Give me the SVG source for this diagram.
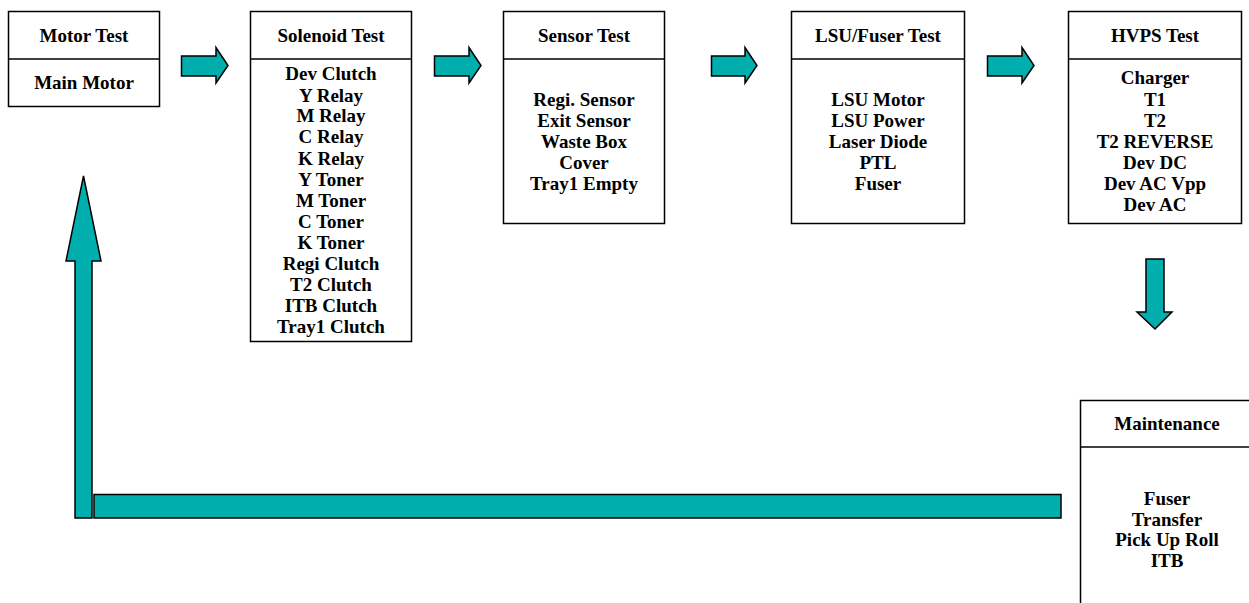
<svg xmlns="http://www.w3.org/2000/svg" width="1249" height="603" viewBox="0 0 1249 603">
<style>
.box{fill:#fff;stroke:#000;stroke-width:1.5}
.div{stroke:#000;stroke-width:1.5}
.arr{fill:#00AEAE;stroke:#000;stroke-width:1.5;stroke-linejoin:miter}
text{font-family:"Liberation Serif","Times New Roman",serif;font-weight:bold;font-size:19px;text-anchor:middle;fill:#000}
</style>
<rect width="1249" height="603" fill="#fff"/>
<g id="motor">
<rect class="box" x="8.5" y="11.5" width="151" height="95"/>
<line class="div" x1="8.5" y1="59" x2="159.5" y2="59"/>
<text x="84" y="41.5">Motor Test</text>
<text x="84" y="88.5">Main Motor</text>
</g>
<g id="solenoid">
<rect class="box" x="250.5" y="11.5" width="161" height="330"/>
<line class="div" x1="250.5" y1="59" x2="411.5" y2="59"/>
<text x="331" y="41.5">Solenoid Test</text>
<text x="331" y="79.5">Dev Clutch</text>
<text x="331" y="101.5">Y Relay</text>
<text x="331" y="122">M Relay</text>
<text x="331" y="143">C Relay</text>
<text x="331" y="165">K Relay</text>
<text x="331" y="185.5">Y Toner</text>
<text x="331" y="206.5">M Toner</text>
<text x="331" y="228">C Toner</text>
<text x="331" y="249">K Toner</text>
<text x="331" y="269.5">Regi Clutch</text>
<text x="331" y="291">T2 Clutch</text>
<text x="331" y="312">ITB Clutch</text>
<text x="331" y="333">Tray1 Clutch</text>
</g>
<g id="sensor">
<rect class="box" x="503.5" y="11.5" width="161" height="212"/>
<line class="div" x1="503.5" y1="59" x2="664.5" y2="59"/>
<text x="584" y="41.5">Sensor Test</text>
<text x="584" y="106">Regi. Sensor</text>
<text x="584" y="127">Exit Sensor</text>
<text x="584" y="148">Waste Box</text>
<text x="584" y="169">Cover</text>
<text x="584" y="190">Tray1 Empty</text>
</g>
<g id="lsu">
<rect class="box" x="791.5" y="11.5" width="173" height="212"/>
<line class="div" x1="791.5" y1="59" x2="964.5" y2="59"/>
<text x="878" y="41.5">LSU/Fuser Test</text>
<text x="878" y="106">LSU Motor</text>
<text x="878" y="127">LSU Power</text>
<text x="878" y="148">Laser Diode</text>
<text x="878" y="169">PTL</text>
<text x="878" y="190">Fuser</text>
</g>
<g id="hvps">
<rect class="box" x="1068.5" y="11.5" width="173" height="212"/>
<line class="div" x1="1068.5" y1="59" x2="1241.5" y2="59"/>
<text x="1155" y="41.5">HVPS Test</text>
<text x="1155" y="84">Charger</text>
<text x="1155" y="106">T1</text>
<text x="1155" y="127">T2</text>
<text x="1155" y="148">T2 REVERSE</text>
<text x="1155" y="169">Dev DC</text>
<text x="1155" y="190">Dev AC Vpp</text>
<text x="1155" y="211">Dev AC</text>
</g>
<g id="maintenance">
<rect class="box" x="1080.5" y="400.5" width="180" height="220"/>
<line class="div" x1="1080.5" y1="447" x2="1260" y2="447"/>
<text x="1167" y="430">Maintenance</text>
<text x="1167" y="504.5">Fuser</text>
<text x="1167" y="525.5">Transfer</text>
<text x="1167" y="546">Pick Up Roll</text>
<text x="1167" y="567">ITB</text>
</g>
<g id="connectors">
<polygon class="arr" points="181.5,56 216,56 216,47.5 228,65.5 216,83 216,76 181.5,76"/>
<polygon class="arr" points="434.5,56 469,56 469,47.5 481,65.5 469,83 469,76 434.5,76"/>
<polygon class="arr" points="711.5,56 745,56 745,47.5 757,65.5 745,83 745,76 711.5,76"/>
<polygon class="arr" points="987.5,56 1022,56 1022,47.5 1034,65.5 1022,83 1022,76 987.5,76"/>
<polygon class="arr" points="1146,259 1164,259 1164,312 1172,312 1155,329 1137,312 1146,312"/>
<polygon class="arr" points="75,518 92,518 92,261 101,261 83.5,176 66,261 75,261"/>
<rect class="arr" x="94" y="494.5" width="967" height="23.5"/>
</g>
</svg>
